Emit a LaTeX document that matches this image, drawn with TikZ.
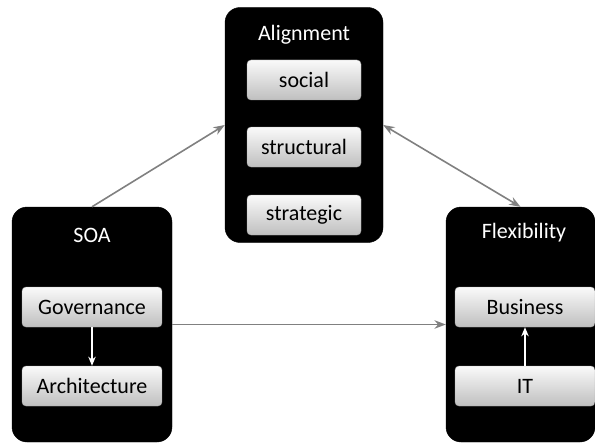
\documentclass[tikz,border=0pt]{standalone}
\usepackage{fontspec}
\setmainfont{Carlito}
\usetikzlibrary{positioning,arrows.meta,calc}

\begin{document}
\begin{tikzpicture}[
    x=1pt, y=-1pt,
    font=\fontsize{22}{26}\selectfont,
    panel/.style={fill=black, draw=black, rounded corners=15pt,
                  minimum width=158pt, minimum height=235pt, inner sep=0pt},
    ttl/.style={text=white},
    item/.style={draw=gray!70, rounded corners=4pt, top color=white!96!gray,
                 bottom color=gray!50, minimum height=40pt, inner sep=2pt},
    link/.style={-{Stealth[length=4mm, width=3mm]}, gray, line width=1.6pt},
    inner/.style={-{Stealth[length=3.2mm, width=2.6mm]}, white, line width=1.6pt},
  ]
  \useasboundingbox (0,0) rectangle (595,444);

  % ---------------- Alignment ----------------
  \node[panel] (align) at (304,125) {};
  \node[ttl] (alignttl) at (304,35) {Alignment};
  \node[item, minimum width=114pt] (social)     at (304,80)  {social};
  \node[item, minimum width=114pt] (structural) at (304,147) {structural};
  \node[item, minimum width=114pt] (strategic)  at (304,215) {strategic};

  % ---------------- SOA ----------------
  \node[panel, minimum width=160pt] (soa) at (92,324.5) {};
  \node[ttl] (soattl) at (92,235) {SOA};
  \node[item, minimum width=140pt] (gov)  at (92,307) {Governance};
  \node[item, minimum width=140pt] (arch) at (92,386) {Architecture};
  \draw[inner] (gov) -- (arch);

  % ---------------- Flexibility ----------------
  \node[panel, minimum width=149pt] (flex) at (520.5,324.5) {};
  \node[ttl] (flexttl) at (524,233) {Flexibility};
  \node[item, minimum width=140pt] (bus) at (525,307) {Business};
  \node[item, minimum width=140pt] (it)  at (525,386) {IT};
  \draw[inner] (it) -- (bus);

  % ---------------- links ----------------
  \draw[link] (soa.north) -- (align.west);
  \draw[link, {Stealth[length=4mm, width=3mm]}-{Stealth[length=4mm, width=3mm]}] (align.east) -- (flex.north);
  \draw[link] (soa.east) -- (flex.west);
\end{tikzpicture}
\end{document}
